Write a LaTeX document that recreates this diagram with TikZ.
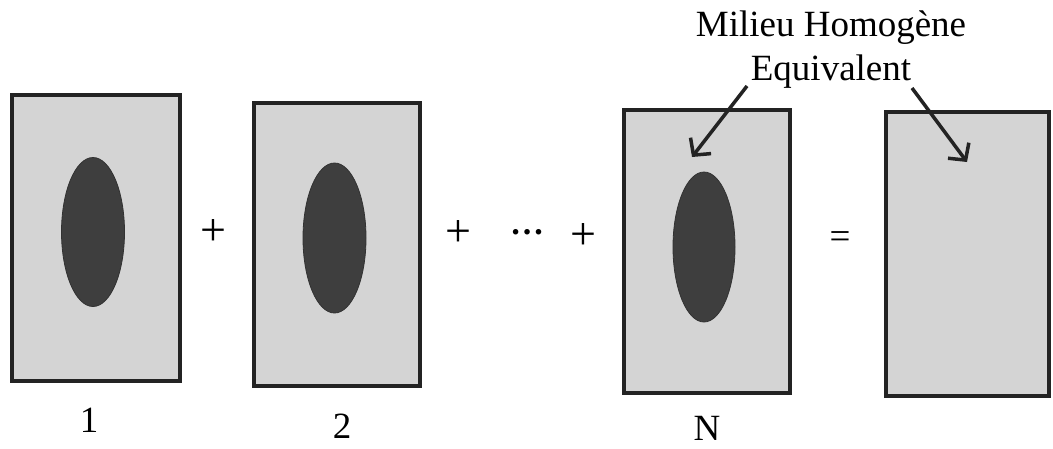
\documentclass[tikz,border=0pt]{standalone}
\usepackage{fontspec}
\setmainfont{Liberation Serif}
\usetikzlibrary{shapes.geometric,arrows.meta}
\definecolor{panelgray}{RGB}{212,212,212}
\definecolor{inclgray}{RGB}{62,62,62}
\definecolor{edgecol}{RGB}{35,35,35}
\begin{document}
\begin{tikzpicture}[x=1pt,y=-1pt,
  panel/.style={rectangle,draw=edgecol,line width=4pt,fill=panelgray,inner sep=0pt},
  incl/.style={ellipse,draw=inclgray!80!black,line width=0.8pt,fill=inclgray,inner sep=0pt},
  lbl/.style={font=\fontsize{37}{44}\selectfont,inner sep=0pt,anchor=base},
  oper/.style={font=\fontsize{46}{50}\selectfont,inner sep=0pt,anchor=center},
  ptr/.style={-{Straight Barb[length=12pt,width=26pt,line width=3.5pt]},line width=3.5pt,draw=edgecol}]
\useasboundingbox[fill=white] (0,0) rectangle (1053,448);
% panels
\node[panel,minimum width=168pt,minimum height=286pt] (p1) at (96,238) {};
\node[panel,minimum width=166pt,minimum height=283pt] (p2) at (337,244.5) {};
\node[panel,minimum width=166pt,minimum height=283pt] (pN) at (707,251.5) {};
\node[panel,minimum width=163pt,minimum height=284pt] (pE) at (967.5,254) {};
% inclusions
\node[incl,minimum width=63pt,minimum height=149pt] (e1) at (93,232) {};
\node[incl,minimum width=63pt,minimum height=150pt] (e2) at (334.5,238) {};
\node[incl,minimum width=62pt,minimum height=150pt] (eN) at (704,247) {};
% operators
\node[oper] (plus1) at (213,232) {+};
\node[oper] (plus2) at (458,233) {+};
\node[font=\bfseries\fontsize{34}{36}\selectfont,inner sep=0pt,anchor=center] (dots) at (527,232) {…};
\node[oper] (plus3) at (583,236) {+};
\node[lbl,anchor=center] (eq) at (840,240) {=};
% labels
\node[lbl] (l1) at (89,432) {1};
\node[lbl] (l2) at (342,438) {2};
\node[lbl] (lN) at (707,440) {N};
% title
\node[lbl] (t1) at (831,36) {Milieu Homogène};
\node[lbl] (t2) at (831,80) {Equivalent};
\coordinate (s1) at (747,86);
\coordinate (s2) at (912,88);
\coordinate (tipN) at (692,157);
\coordinate (tipE) at (967,162);
\draw[ptr] (s1) -- (tipN);
\draw[ptr] (s2) -- (tipE);
\end{tikzpicture}
\end{document}
